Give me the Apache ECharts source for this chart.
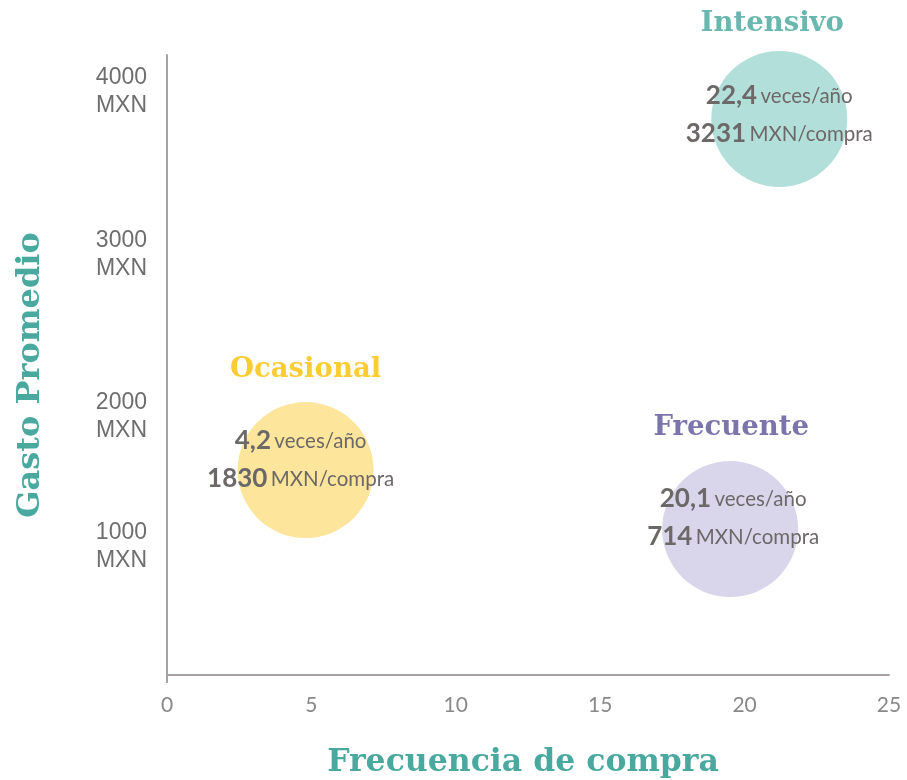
<!DOCTYPE html>
<html><head><meta charset="utf-8">
<script src="https://cdn.jsdelivr.net/npm/echarts@6/dist/echarts.min.js"></script>
<style>html,body{margin:0;padding:0;background:#fff}#c{width:907px;height:780px}</style>
</head><body><div id="c"></div>
<script>
// ---- data ----
const segments = ['Ocasional', 'Frecuente', 'Intensivo'];
const freqPerYear = ['4,2', '20,1', '22,4'];          // veces/año
const spendPerPurchase = ['1830', '714', '3231'];     // MXN/compra
const bubbleX = [4.8, 19.5, 21.2];                    // frecuencia (plotted)
const bubbleY = [1570, 1118, 4260];                   // gasto (plotted)
const xMin = 0, xMax = 25, xStep = 5;
const yMin = 0, yMax = 4750;
const yTickValues = [985, 1982, 3222, 4470];
const yTickLabels = ['1000\nMXN', '2000\nMXN', '3000\nMXN', '4000\nMXN'];

// ---- styles ----
const bubbleColors = ['#fde59c', '#d9d5eb', '#b3dfdb'];
const titleColors = ['#fbbf00', '#5b5397', '#44a59a'];
const titleOffsets = [[0, 0], [1, -1], [-7, 5]];
const textOffsets = [[-5, -10], [3, -11], [0, -4]];
const teal = '#4aa99e';
const axisColor = '#a8a1a1';
const serif = 'DejaVu Serif';

const chart = echarts.init(document.getElementById('c'), null, {renderer: 'canvas'});
const pts = segments.map((s, i) => ({
  value: [bubbleX[i], bubbleY[i]],
  name: s,
  itemStyle: {color: bubbleColors[i]},
  label: {offset: textOffsets[i]},
  idx: i
}));

chart.setOption({
  animation: false,
  grid: {left: 167, right: 18, top: 55, bottom: 105, outerBoundsMode: 'none', containLabel: false},
  xAxis: {
    type: 'value', min: xMin, max: xMax, interval: xStep,
    name: 'Frecuencia de compra', nameLocation: 'middle', nameGap: 72,
    nameTextStyle: {fontFamily: serif, fontWeight: 'bold', fontSize: 31.5, color: teal, padding: [0, 10, 0, 0]},
    axisLine: {show: true, lineStyle: {color: axisColor, width: 2}},
    axisTick: {show: true, customValues: [0], length: 8, lineStyle: {color: axisColor, width: 2}},
    splitLine: {show: false},
    axisLabel: {fontFamily: 'Lato', fontSize: 21, color: '#898989', margin: 20}
  },
  yAxis: {
    type: 'value', min: yMin, max: yMax,
    name: 'Gasto Promedio', nameLocation: 'middle', nameGap: 120, nameRotate: 90,
    nameTextStyle: {fontFamily: serif, fontWeight: 'bold', fontSize: 32, color: teal, padding: [0, 20, 0, 0]},
    axisLine: {show: true, lineStyle: {color: axisColor, width: 2}},
    axisTick: {show: false},
    splitLine: {show: false},
    axisLabel: {
      customValues: yTickValues,
      formatter: v => yTickLabels[yTickValues.indexOf(v)],
      fontFamily: 'Liberation Sans', fontSize: 23, lineHeight: 28, color: '#6e6e6e', margin: 20
    }
  },
  series: [
    {
      type: 'scatter', symbolSize: 136,
      data: pts.map(p => ({value: p.value, name: p.name, itemStyle: p.itemStyle, label: p.label})),
      itemStyle: {opacity: 1},
      label: {
        show: true, position: 'inside',
        formatter: p => `{n|${freqPerYear[p.dataIndex]}} {u|veces/año}\n{n|${spendPerPurchase[p.dataIndex]}} {u|MXN/compra}`,
        rich: {
          n: {fontFamily: 'Lato', fontWeight: 'bold', fontSize: 26, color: '#6d6868', lineHeight: 38},
          u: {fontFamily: 'Lato', fontSize: 20.5, color: '#6d6868', lineHeight: 38}
        }
      },
      z: 2
    },
    {
      type: 'scatter', symbolSize: 136, silent: true,
      data: pts.map(p => ({value: p.value, name: p.name, itemStyle: {color: 'rgba(0,0,0,0)'},
        label: {color: titleColors[p.idx], offset: titleOffsets[p.idx]}})),
      label: {
        show: true, position: 'top', distance: 18,
        formatter: p => p.name,
        fontFamily: serif, fontWeight: 'bold', fontSize: 27.5
      },
      z: 3
    }
  ]
});
</script>
</body></html>
